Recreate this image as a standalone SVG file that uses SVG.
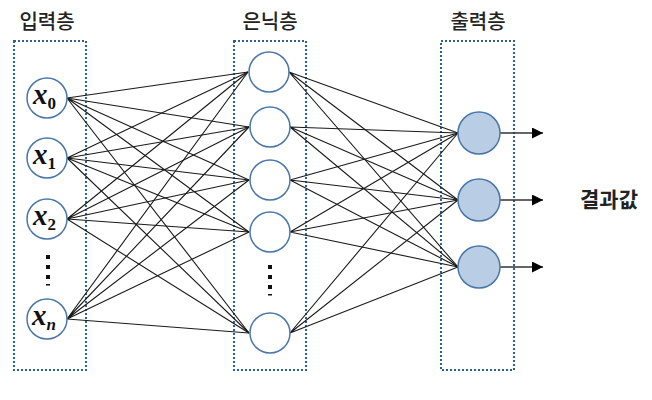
<svg xmlns="http://www.w3.org/2000/svg" width="652" height="400" viewBox="0 0 652 400">
<defs>
<style>
.box{fill:none;stroke:#2f5f8f;stroke-width:2;stroke-dasharray:2 2}
.nin{fill:#fff;stroke:#4a76a8;stroke-width:1.5}
.nout{fill:#b9cde5;stroke:#4a76a8;stroke-width:1.5}
.ln{stroke:#1a1a1a;stroke-width:1.1;fill:none}
.lbl{font-family:"Noto Sans CJK KR","Noto Sans",sans-serif;font-size:20px;font-weight:500;fill:#222;text-anchor:middle}
.var{font-family:"Liberation Serif",serif;font-style:italic;font-weight:bold;font-size:29px;fill:#111}
.sub{font-size:17px;font-style:normal}
.dot{fill:#111}
</style>
<marker id="ah" viewBox="0 0 10 10" refX="10" refY="5" markerWidth="11" markerHeight="11" markerUnits="userSpaceOnUse" orient="auto">
<path d="M0,0 L10,5 L0,10 z" fill="#000"/>
</marker>
</defs>
<rect width="652" height="400" fill="#fff"/>

<g id="layer-boxes">
<rect class="box" x="14" y="41" width="72" height="329"/>
<rect class="box" x="234" y="41" width="72" height="329"/>
<rect class="box" x="441" y="41" width="73" height="329"/>
<text class="lbl" x="47" y="29">입력층</text>
<text class="lbl" x="270" y="29">은닉층</text>
<text class="lbl" x="478" y="29">출력층</text>
</g>

<g id="connectors">
<g class="ln">
<path d="M67,98 L248,72 M67,98 L249,127 M67,98 L249,180 M67,98 L249,232 M67,98 L249,333"/>
<path d="M67,158 L248,72 M67,158 L249,127 M67,158 L249,180 M67,158 L249,232 M67,158 L249,333"/>
<path d="M67,219 L248,72 M67,219 L249,127 M67,219 L249,180 M67,219 L249,232 M67,219 L249,333"/>
<path d="M67,319 L248,72 M67,319 L249,127 M67,319 L249,180 M67,319 L249,232 M67,319 L249,333"/>
<path d="M289,72 L458,133 M289,72 L458,200 M289,72 L458,267"/>
<path d="M290,127 L458,133 M290,127 L458,200 M290,127 L458,267"/>
<path d="M290,180 L458,133 M290,180 L458,200 M290,180 L458,267"/>
<path d="M290,232 L458,133 M290,232 L458,200 M290,232 L458,267"/>
<path d="M290,333 L458,133 M290,333 L458,200 M290,333 L458,267"/>
</g>
<g stroke="#333" stroke-width="1.5">
<line x1="500" y1="133" x2="543" y2="133" marker-end="url(#ah)"/>
<line x1="500" y1="200" x2="543" y2="200" marker-end="url(#ah)"/>
<line x1="500" y1="267" x2="543" y2="267" marker-end="url(#ah)"/>
</g>
</g>

<g id="x0"><circle class="nin" cx="47" cy="98" r="20"/><text class="var" x="33" y="104">x<tspan class="sub" dy="5">0</tspan></text></g>
<g id="x1"><circle class="nin" cx="47" cy="158" r="20"/><text class="var" x="33" y="164">x<tspan class="sub" dy="5">1</tspan></text></g>
<g id="x2"><circle class="nin" cx="47" cy="219" r="20"/><text class="var" x="33" y="225">x<tspan class="sub" dy="5">2</tspan></text></g>
<g id="xn"><circle class="nin" cx="47" cy="319" r="20"/><text class="var" x="32" y="325">x<tspan class="sub" dy="5" style="font-style:italic">n</tspan></text></g>
<g id="in-dots">
<rect class="dot" x="46" y="255" width="4" height="4"/>
<rect class="dot" x="46" y="265" width="4" height="4"/>
<rect class="dot" x="46" y="275" width="4" height="4"/>
<rect class="dot" x="46" y="284" width="4" height="1.5"/>
</g>

<g id="h1"><circle class="nin" cx="269" cy="72" r="20"/></g>
<g id="h2"><circle class="nin" cx="270" cy="127" r="20"/></g>
<g id="h3"><circle class="nin" cx="270" cy="180" r="20"/></g>
<g id="h4"><circle class="nin" cx="270" cy="232" r="20"/></g>
<g id="h5"><circle class="nin" cx="270" cy="333" r="20"/></g>
<g id="h-dots">
<rect class="dot" x="268" y="265" width="4" height="4"/>
<rect class="dot" x="268" y="275" width="4" height="4"/>
<rect class="dot" x="268" y="285" width="4" height="4"/>
<rect class="dot" x="268" y="294" width="4" height="1.5"/>
</g>

<g id="o1"><circle class="nout" cx="479" cy="133" r="21"/></g>
<g id="o2"><circle class="nout" cx="479" cy="200" r="21"/></g>
<g id="o3"><circle class="nout" cx="479" cy="267" r="21"/></g>

<g id="result"><text class="lbl" x="609" y="207" style="font-size:21px;font-weight:bold">결과값</text></g>
</svg>
